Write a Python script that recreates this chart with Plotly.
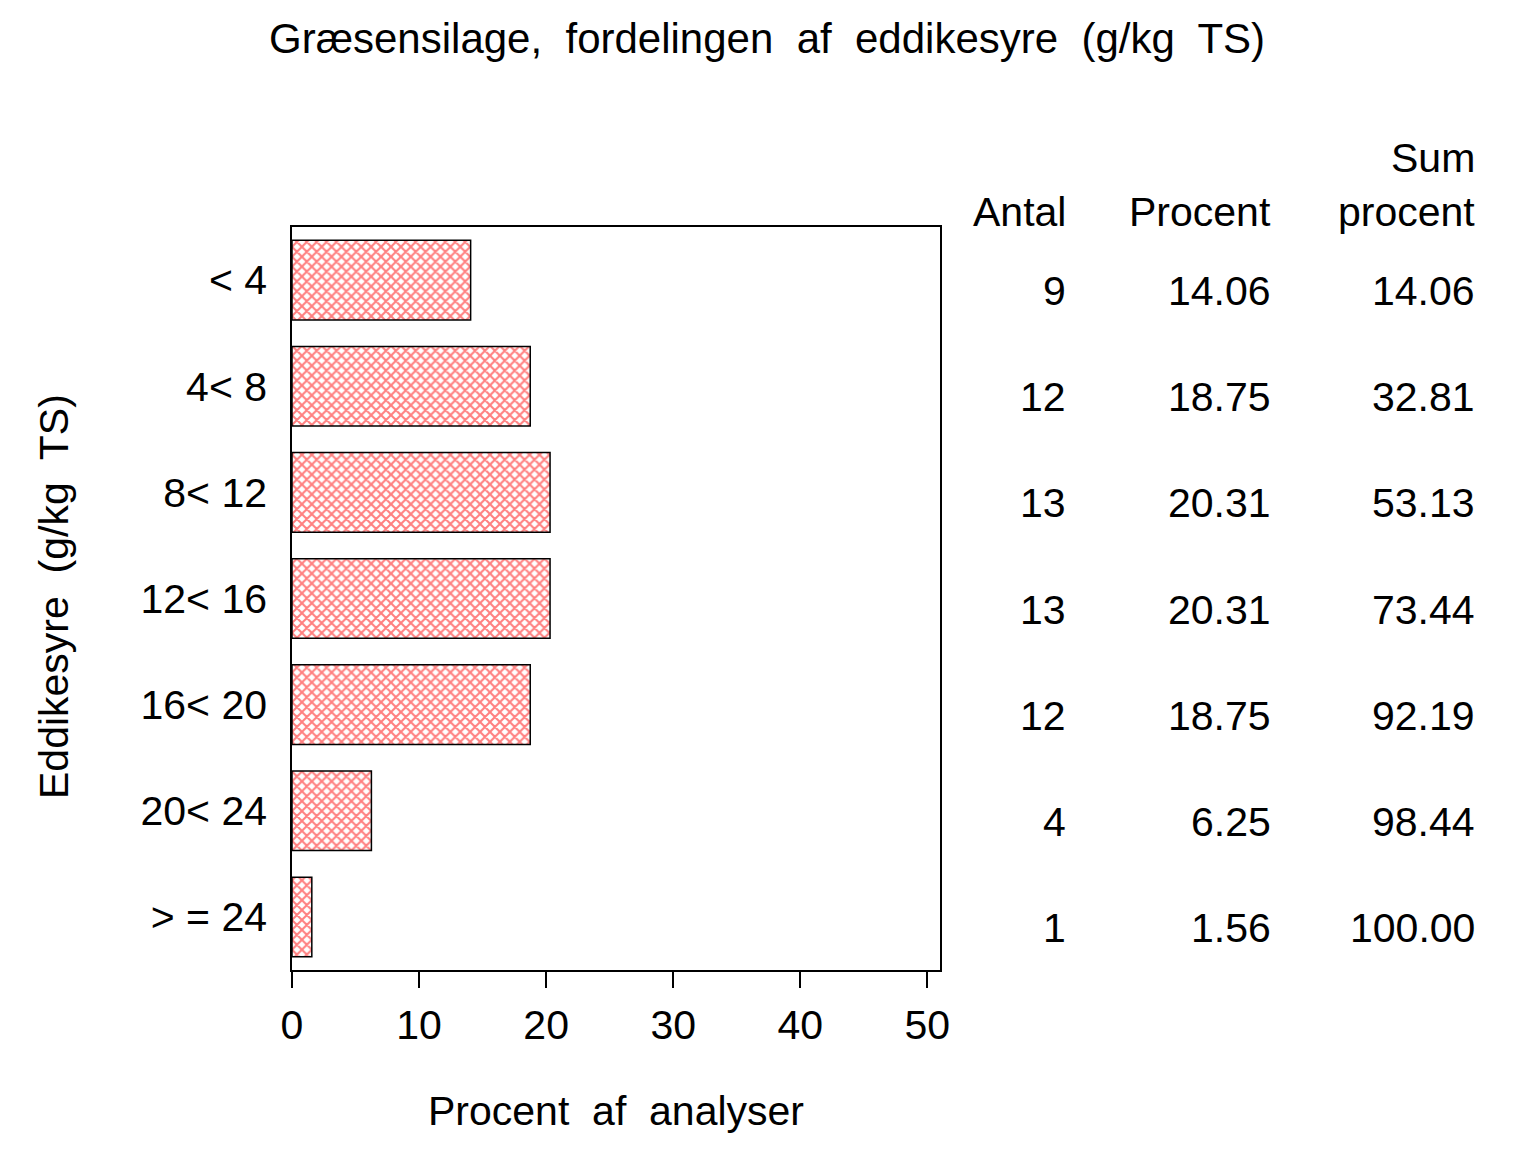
import plotly.graph_objects as go

categories = ["< 4", "4< 8", "8< 12", "12< 16", "16< 20", "20< 24", "> = 24"]
antal = [9, 12, 13, 13, 12, 4, 1]
procent = [14.06, 18.75, 20.31, 20.31, 18.75, 6.25, 1.56]
sum_procent = [14.06, 32.81, 53.13, 73.44, 92.19, 98.44, 100.00]
x_ticks = [0, 10, 20, 30, 40, 50]

FONT = "Liberation Sans, Arial, sans-serif"
FS = 41

fig = go.Figure()
fig.add_trace(go.Bar(
    y=categories, x=procent, orientation="h", width=0.75,
    marker=dict(color="white", line=dict(color="black", width=1.5),
                pattern=dict(shape="x", fgcolor="red", bgcolor="white",
                             size=7, solidity=0.5)),
    showlegend=False,
))

ann = []
col_x = [1.1975, 1.5139, 1.8287]
for i, c in enumerate(categories):
    vals = [str(antal[i]), f"{procent[i]:.2f}", f"{sum_procent[i]:.2f}"]
    for cx, v in zip(col_x, vals):
        ann.append(dict(x=cx, xref="paper", y=c, yref="y", text=v, yshift=-11,
                        showarrow=False, xanchor="right", yanchor="middle",
                        font=dict(size=FS)))
headers = [("Antal", 0), ("Procent", 1), ("procent", 2)]
for t, k in headers:
    ann.append(dict(x=col_x[k], xref="paper", y=1.0202, yref="paper", text=t,
                    showarrow=False, xanchor="right", yanchor="middle",
                    font=dict(size=FS)))
ann.append(dict(x=col_x[2], xref="paper", y=1.0929, yref="paper", text="Sum",
                showarrow=False, xanchor="right", yanchor="middle",
                font=dict(size=FS)))
ann.append(dict(x=(766 - 291) / 648, xref="paper", y=(969 - 38) / 743, yref="paper",
                text="Græsensilage,  fordelingen  af  eddikesyre  (g/kg  TS)",
                showarrow=False, xanchor="center", yanchor="middle",
                font=dict(size=42)))
ann.append(dict(x=(53 - 291) / 648, xref="paper", y=(969 - 596) / 743, yref="paper",
                text="Eddikesyre  (g/kg  TS)", textangle=-90,
                showarrow=False, xanchor="center", yanchor="middle",
                font=dict(size=FS)))
ann.append(dict(x=0.5, xref="paper", y=(969 - 1110) / 743, yref="paper",
                text="Procent  af  analyser",
                showarrow=False, xanchor="center", yanchor="middle",
                font=dict(size=FS)))

fig.update_layout(
    width=1536, height=1152,
    margin=dict(l=284, r=604, t=219, b=190),
    paper_bgcolor="white", plot_bgcolor="white",
    font=dict(family=FONT, size=FS, color="black"),
    annotations=ann,
    xaxis=dict(range=[0, 51], tickvals=x_ticks, ticks="outside", ticklen=16,
               tickwidth=1.5, tickcolor="black", showgrid=False, zeroline=False,
               showline=True, linecolor="black", linewidth=1.5, mirror=True,
               ticklabelstandoff=2, tickfont=dict(size=FS)),
    yaxis=dict(type="category", categoryorder="array", categoryarray=categories,
               range=[6.5, -0.5], showgrid=False, zeroline=False,
               showline=True, linecolor="black", linewidth=1.5, mirror=True,
               ticks="", ticklabelstandoff=15, tickfont=dict(size=FS)),
)

fig.write_html("out.html")
